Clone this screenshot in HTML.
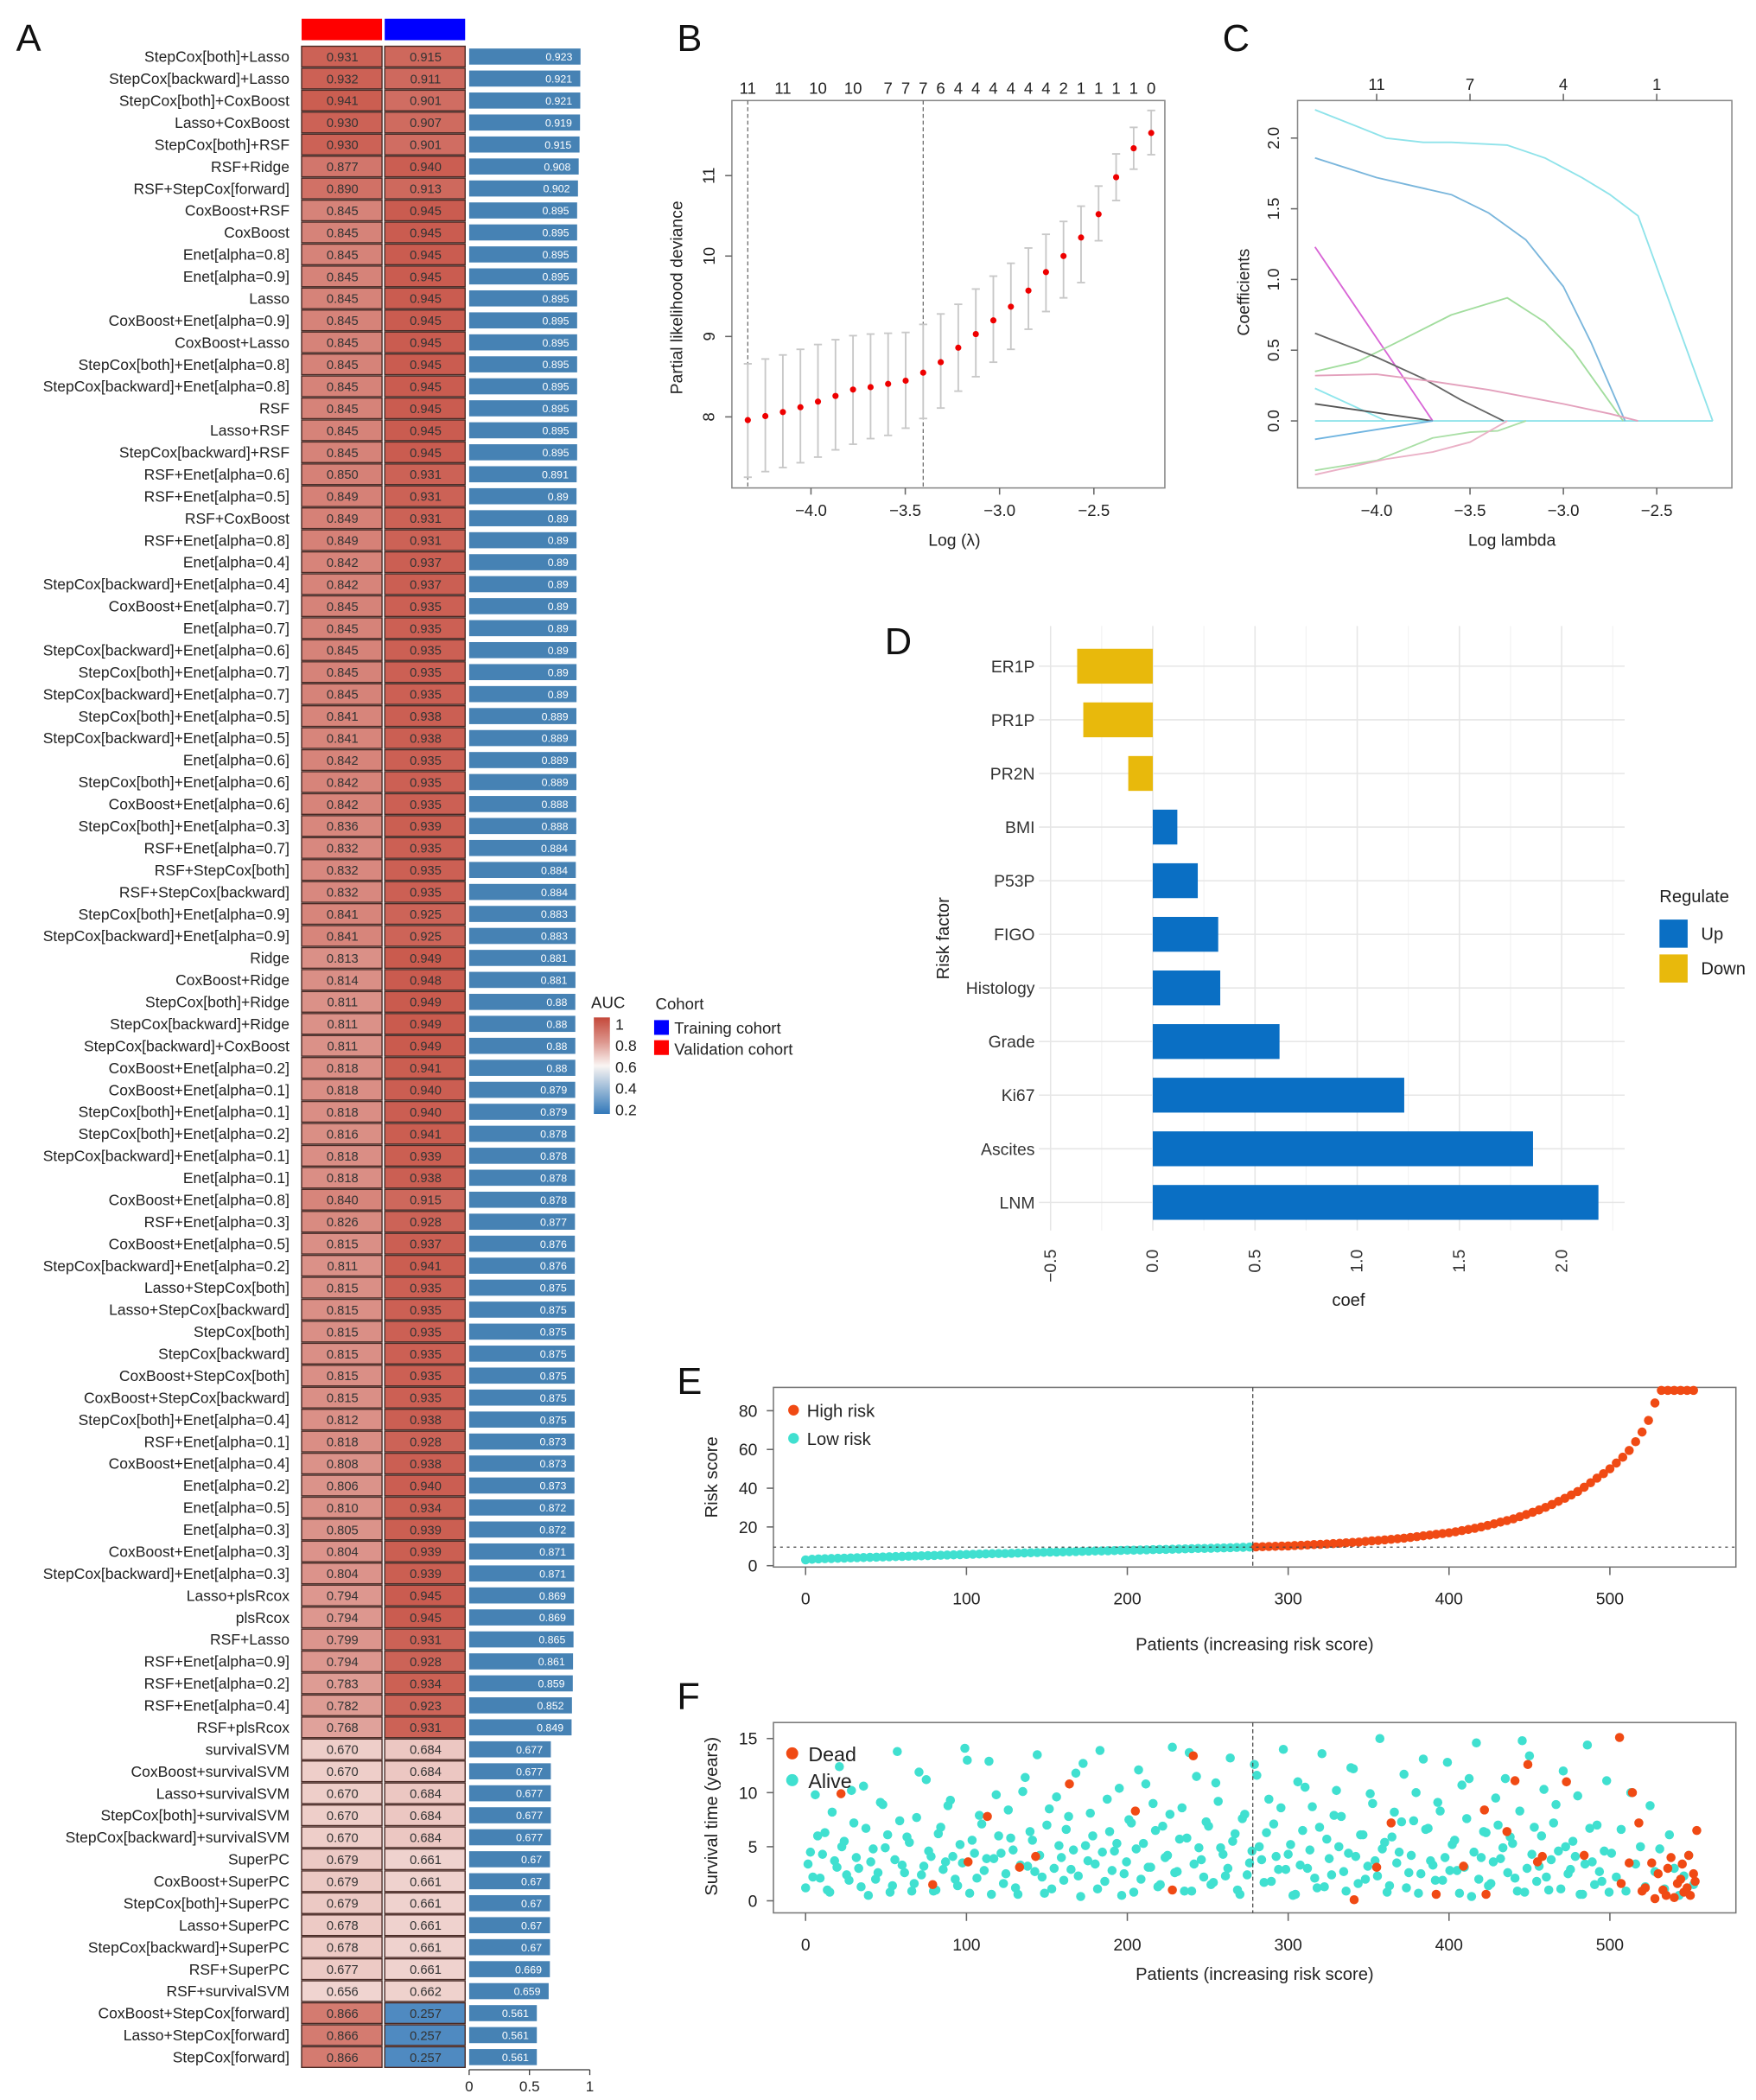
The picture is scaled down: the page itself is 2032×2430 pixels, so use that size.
<!DOCTYPE html>
<html><head><meta charset="utf-8"><style>
html,body{margin:0;padding:0;background:#fff;}
svg{display:block;font-family:"Liberation Sans",Arial,sans-serif;}
</style></head><body>
<svg id="fig" xmlns="http://www.w3.org/2000/svg" width="2032" height="2430" viewBox="0 0 1310 1566.6" preserveAspectRatio="none"></svg>
<script>
// ---------- Panel A data ----------
const modelNames = ["StepCox[both]+Lasso","StepCox[backward]+Lasso","StepCox[both]+CoxBoost","Lasso+CoxBoost","StepCox[both]+RSF","RSF+Ridge","RSF+StepCox[forward]","CoxBoost+RSF","CoxBoost","Enet[alpha=0.8]","Enet[alpha=0.9]","Lasso","CoxBoost+Enet[alpha=0.9]","CoxBoost+Lasso","StepCox[both]+Enet[alpha=0.8]","StepCox[backward]+Enet[alpha=0.8]","RSF","Lasso+RSF","StepCox[backward]+RSF","RSF+Enet[alpha=0.6]","RSF+Enet[alpha=0.5]","RSF+CoxBoost","RSF+Enet[alpha=0.8]","Enet[alpha=0.4]","StepCox[backward]+Enet[alpha=0.4]","CoxBoost+Enet[alpha=0.7]","Enet[alpha=0.7]","StepCox[backward]+Enet[alpha=0.6]","StepCox[both]+Enet[alpha=0.7]","StepCox[backward]+Enet[alpha=0.7]","StepCox[both]+Enet[alpha=0.5]","StepCox[backward]+Enet[alpha=0.5]","Enet[alpha=0.6]","StepCox[both]+Enet[alpha=0.6]","CoxBoost+Enet[alpha=0.6]","StepCox[both]+Enet[alpha=0.3]","RSF+Enet[alpha=0.7]","RSF+StepCox[both]","RSF+StepCox[backward]","StepCox[both]+Enet[alpha=0.9]","StepCox[backward]+Enet[alpha=0.9]","Ridge","CoxBoost+Ridge","StepCox[both]+Ridge","StepCox[backward]+Ridge","StepCox[backward]+CoxBoost","CoxBoost+Enet[alpha=0.2]","CoxBoost+Enet[alpha=0.1]","StepCox[both]+Enet[alpha=0.1]","StepCox[both]+Enet[alpha=0.2]","StepCox[backward]+Enet[alpha=0.1]","Enet[alpha=0.1]","CoxBoost+Enet[alpha=0.8]","RSF+Enet[alpha=0.3]","CoxBoost+Enet[alpha=0.5]","StepCox[backward]+Enet[alpha=0.2]","Lasso+StepCox[both]","Lasso+StepCox[backward]","StepCox[both]","StepCox[backward]","CoxBoost+StepCox[both]","CoxBoost+StepCox[backward]","StepCox[both]+Enet[alpha=0.4]","RSF+Enet[alpha=0.1]","CoxBoost+Enet[alpha=0.4]","Enet[alpha=0.2]","Enet[alpha=0.5]","Enet[alpha=0.3]","CoxBoost+Enet[alpha=0.3]","StepCox[backward]+Enet[alpha=0.3]","Lasso+plsRcox","plsRcox","RSF+Lasso","RSF+Enet[alpha=0.9]","RSF+Enet[alpha=0.2]","RSF+Enet[alpha=0.4]","RSF+plsRcox","survivalSVM","CoxBoost+survivalSVM","Lasso+survivalSVM","StepCox[both]+survivalSVM","StepCox[backward]+survivalSVM","SuperPC","CoxBoost+SuperPC","StepCox[both]+SuperPC","Lasso+SuperPC","StepCox[backward]+SuperPC","RSF+SuperPC","RSF+survivalSVM","CoxBoost+StepCox[forward]","Lasso+StepCox[forward]","StepCox[forward]"];
const validationAUC = [0.931,0.932,0.941,0.930,0.930,0.877,0.890,0.845,0.845,0.845,0.845,0.845,0.845,0.845,0.845,0.845,0.845,0.845,0.845,0.850,0.849,0.849,0.849,0.842,0.842,0.845,0.845,0.845,0.845,0.845,0.841,0.841,0.842,0.842,0.842,0.836,0.832,0.832,0.832,0.841,0.841,0.813,0.814,0.811,0.811,0.811,0.818,0.818,0.818,0.816,0.818,0.818,0.840,0.826,0.815,0.811,0.815,0.815,0.815,0.815,0.815,0.815,0.812,0.818,0.808,0.806,0.810,0.805,0.804,0.804,0.794,0.794,0.799,0.794,0.783,0.782,0.768,0.670,0.670,0.670,0.670,0.670,0.679,0.679,0.679,0.678,0.678,0.677,0.656,0.866,0.866,0.866];
const trainingAUC = [0.915,0.911,0.901,0.907,0.901,0.940,0.913,0.945,0.945,0.945,0.945,0.945,0.945,0.945,0.945,0.945,0.945,0.945,0.945,0.931,0.931,0.931,0.931,0.937,0.937,0.935,0.935,0.935,0.935,0.935,0.938,0.938,0.935,0.935,0.935,0.939,0.935,0.935,0.935,0.925,0.925,0.949,0.948,0.949,0.949,0.949,0.941,0.940,0.940,0.941,0.939,0.938,0.915,0.928,0.937,0.941,0.935,0.935,0.935,0.935,0.935,0.935,0.938,0.928,0.938,0.940,0.934,0.939,0.939,0.939,0.945,0.945,0.931,0.928,0.934,0.923,0.931,0.684,0.684,0.684,0.684,0.684,0.661,0.661,0.661,0.661,0.661,0.661,0.662,0.257,0.257,0.257];
const meanAUC = ["0.923","0.921","0.921","0.919","0.915","0.908","0.902","0.895","0.895","0.895","0.895","0.895","0.895","0.895","0.895","0.895","0.895","0.895","0.895","0.891","0.89","0.89","0.89","0.89","0.89","0.89","0.89","0.89","0.89","0.89","0.889","0.889","0.889","0.889","0.888","0.888","0.884","0.884","0.884","0.883","0.883","0.881","0.881","0.88","0.88","0.88","0.88","0.879","0.879","0.878","0.878","0.878","0.878","0.877","0.876","0.876","0.875","0.875","0.875","0.875","0.875","0.875","0.875","0.873","0.873","0.873","0.872","0.872","0.871","0.871","0.869","0.869","0.865","0.861","0.859","0.852","0.849","0.677","0.677","0.677","0.677","0.677","0.67","0.67","0.67","0.67","0.67","0.669","0.659","0.561","0.561","0.561"];
const barTicks = [0,0.5,1];
const aucLegendTicks = [1,0.8,0.6,0.4,0.2];

// ---------- Panel B data ----------
const logLambdaB = [-4.335,-4.242,-4.149,-4.056,-3.963,-3.870,-3.777,-3.684,-3.591,-3.498,-3.405,-3.312,-3.219,-3.126,-3.033,-2.940,-2.847,-2.754,-2.661,-2.568,-2.475,-2.382,-2.289,-2.196];
const devianceMean = [7.96,8.01,8.06,8.12,8.19,8.26,8.34,8.37,8.41,8.45,8.55,8.68,8.86,9.03,9.20,9.37,9.57,9.80,10.0,10.23,10.52,10.98,11.34,11.53];
const devianceUpper = [8.66,8.72,8.77,8.84,8.90,8.96,9.01,9.03,9.04,9.05,9.15,9.28,9.40,9.59,9.75,9.91,10.10,10.27,10.43,10.62,10.87,11.27,11.60,11.81];
const devianceLower = [7.25,7.32,7.37,7.43,7.50,7.59,7.66,7.73,7.77,7.86,7.98,8.11,8.32,8.50,8.68,8.84,9.09,9.31,9.48,9.67,10.19,10.69,11.08,11.26];
const nonzeroLabelsB = ["11","","11","","10","","10","","7","7","7","6","4","4","4","4","4","4","2","1","1","1","1","0"];
const xTicksB = [-4.0,-3.5,-3.0,-2.5];
const yTicksB = [8,9,10,11];

// ---------- Panel C data ----------
const xTicksC = [-4.0,-3.5,-3.0,-2.5];
const topTicksC = [[-4.0,"11"],[-3.5,"7"],[-3.0,"4"],[-2.5,"1"]];
const yTicksC = [0.0,0.5,1.0,1.5,2.0];
const pathColorsC = ["#8fe3ea","#7ab6dc","#d866d6","#a2dd9e","#666666","#e3a0bc","#8fe6ec","#555555","#6fb4e0","#aadfa6","#eab0c6"];
const pathLambdaC = [
 [-4.33,-4.1,-3.95,-3.75,-3.6,-3.3,-3.1,-2.9,-2.75,-2.6,-2.2],
 [-4.33,-4.0,-3.8,-3.6,-3.4,-3.2,-3.0,-2.85,-2.67],
 [-4.33,-3.7],
 [-4.33,-4.1,-3.9,-3.6,-3.3,-3.1,-2.95,-2.68],
 [-4.33,-4.0,-3.75,-3.55,-3.32],
 [-4.33,-4.0,-3.7,-3.4,-3.0,-2.75,-2.6],
 [-4.33,-3.95,-3.7],
 [-4.33,-3.8,-3.7],
 [-4.33,-3.95,-3.7],
 [-4.33,-4.0,-3.7,-3.5,-3.35,-3.2],
 [-4.33,-3.95,-3.7,-3.5,-3.3]
];
const pathCoefC = [
 [2.2,2.08,2.0,1.97,1.97,1.95,1.86,1.72,1.6,1.45,0],
 [1.86,1.72,1.66,1.6,1.47,1.28,0.95,0.55,0],
 [1.23,0],
 [0.35,0.42,0.55,0.75,0.87,0.7,0.5,0],
 [0.62,0.45,0.3,0.15,0],
 [0.32,0.33,0.28,0.22,0.12,0.05,0],
 [0.23,0,0],
 [0.12,0.02,0],
 [-0.13,-0.05,0],
 [-0.35,-0.28,-0.12,-0.08,-0.07,0],
 [-0.38,-0.27,-0.22,-0.15,0]
];

// ---------- Panel D data ----------
const riskFactors = ["ER1P","PR1P","PR2N","BMI","P53P","FIGO","Histology","Grade","Ki67","Ascites","LNM"];
const riskCoef = [-0.37,-0.34,-0.12,0.12,0.22,0.32,0.33,0.62,1.23,1.86,2.18];
const xTicksD = [-0.5,0.0,0.5,1.0,1.5,2.0];
const xMinorD = [-0.25,0.25,0.75,1.25,1.75,2.25];

// ---------- Panel E data (every 4th patient, sorted) ----------
const riskStep = 4;
const riskScores = [3.0,3.3,3.5,3.6,3.7,3.8,3.9,4.0,4.1,4.2,4.3,4.4,4.5,4.6,4.7,4.8,4.9,5.0,5.1,5.2,5.3,5.4,5.5,5.6,5.7,5.8,5.9,6.0,6.1,6.2,6.3,6.3,6.4,6.5,6.6,6.7,6.8,6.9,7.0,7.0,7.1,7.2,7.3,7.4,7.5,7.6,7.6,7.7,7.8,7.9,8.0,8.0,8.1,8.2,8.3,8.4,8.4,8.5,8.6,8.7,8.8,8.9,8.9,9.0,9.1,9.2,9.3,9.4,9.5,9.6,
 9.7,9.8,9.9,10.0,10.1,10.2,10.4,10.5,10.7,10.9,11.0,11.2,11.4,11.6,11.8,12.0,12.2,12.5,12.8,13.0,13.3,13.6,13.9,14.2,14.6,15.0,15.4,15.8,16.2,16.6,17.0,17.5,18.1,18.7,19.3,20.0,20.8,21.6,22.5,23.3,24.2,25.3,26.4,27.6,28.8,30.1,31.6,33.2,34.8,36.5,38.3,40.5,42.8,45.2,47.5,50.0,53.0,56.0,59.5,64.0,69.0,75.0,84.0,90.5,90.5,90.5,90.5,90.5,90.5];
const riskCutoffIndex = 278;
const riskCutoffScore = 9.6;
const xTicksE = [0,100,200,300,400,500];
const yTicksE = [0,20,40,60,80];

// ---------- Panel F data ----------
const aliveTimesA = [1.2,4.5,9.8,2.1,6.3,0.8,3.7,12.4,5.5,1.9,7.2,3.0,10.6,0.5,4.8,2.6,8.9,6.1,1.4,13.8,3.3,5.9,0.9,7.7,2.4,11.2,4.1,1.0,6.8,3.6,9.3,2.0,5.2,14.1,0.7,4.4,7.9,2.8,12.9,3.9,6.0,1.6,8.4,4.7,0.6,10.1,3.2,5.6,13.5,2.2,7.0,1.1,9.6,4.0,6.6,2.9,11.8,0.4,5.1,8.1,3.4,13.9,1.8,6.4,4.6,10.4,2.5,7.5,0.8,12.1,5.3,3.1,9.0,1.3,6.9,4.2,14.2,2.7,8.6,5.8,0.9,11.5,3.8,7.3,1.5,10.9,4.9,2.3,13.2,6.2,0.6,8.0,3.5,12.6,5.0,1.7,9.4,7.1,2.9,14.0,4.3,0.5,11.0,6.5,3.0,8.7,1.2,13.6,5.7,2.4,10.2,7.8,0.9,12.3,4.1,6.1,2.0,9.9,3.7,15.0,5.4,1.4,8.2,4.5,11.7,2.6,7.4,0.7,13.1,6.7,3.3,9.1,1.9,12.8,5.2,2.8,10.7,7.6,0.4,14.6,4.0,6.3,1.6,9.5,3.9,11.3,5.9,2.1,8.3,0.8,13.4,6.8,3.2,10.3,1.0,7.2,4.6,12.0,2.5,5.5,9.7,0.6,14.4,3.6,7.0,1.8,11.1,4.4,2.2,6.6,0.9,10.0,3.4,5.0,1.3,8.8,2.7,4.8,1.1,6.1,3.0,0.5,2.3,4.2,1.5];
const aliveTimesB = [3.4,2.2,6.0,4.3,1.0,8.2,3.1,5.0,2.4,10.2,4.0,1.3,6.7,3.6,2.0,9.1,4.9,0.8,3.8,7.4,2.6,5.4,1.6,11.9,3.2,4.6,0.9,6.2,2.9,8.8,4.1,1.4,3.5,13.0,5.6,2.1,7.1,3.9,0.6,9.8,4.4,2.5,5.8,1.2,3.3,11.4,6.4,2.7,4.2,0.7,8.5,3.0,5.1,1.9,7.8,4.7,2.3,12.7,3.7,6.0,1.1,4.5,9.4,2.8,5.3,0.5,3.6,7.2,4.8,2.0,10.8,3.1,6.5,1.5,4.0,8.0,2.6,5.7,0.9,13.7,3.4,4.9,2.2,6.9,1.7,9.2,4.3,3.0,5.5,1.0,7.6,2.4,4.6,11.6,3.8,6.3,1.8,4.1,8.6,2.9,5.2,0.6,3.3,10.5,4.7,2.1,6.8,1.3,3.9,7.9,5.0,2.7,4.4,12.2,1.6,6.1,3.2,9.0,2.3,4.8,0.8,5.9,3.5,7.3,1.2,4.2,10.0,2.5,6.6,3.7,1.9,8.3,4.0,2.8,5.6,0.7,3.1,11.3,4.5,2.0,6.4,1.4,3.6,7.0,4.9,2.6,5.3,0.9,14.8,3.0,4.3,1.8,6.0,2.2,3.8,8.9,1.1,5.0,2.9,4.1,0.6,3.4,6.7,1.5,2.7,4.6,0.8];
const deadIndex = [22,113,143,164,133,101,79,205,228,241,341,355,364,392,409,422,423,436,441,449,455,458,473,484,506,514,507,518,512,522,526,530,533,536,538,540,542,544,546,548,550,552,554,520,528,535,545,549,553];
const deadTimes = [9.9,7.8,4.1,10.8,3.1,3.6,1.5,8.3,1.0,13.4,0.1,3.1,7.2,0.6,3.2,8.4,0.6,6.4,11.1,12.6,3.6,4.1,11.0,4.2,15.1,10.0,1.6,7.2,3.5,1.2,3.5,2.5,1.0,3.0,4.0,0.3,1.6,2.0,0.8,1.2,0.5,2.5,6.5,0.9,0.2,0.5,3.4,4.2,1.8];
const xTicksF = [0,100,200,300,400,500];
const yTicksF = [0,5,10,15];

const NS = "http://www.w3.org/2000/svg";
const svg = document.getElementById("fig");
function mk(tag, attrs, parent){ const e=document.createElementNS(NS,tag); for(const k in attrs) e.setAttribute(k,attrs[k]); (parent||svg).appendChild(e); return e; }
function txt(str, attrs, parent){ const e=mk("text",attrs,parent); e.textContent=str; return e; }
function grp(){ return mk("g",{}); }

// panel letters
const letters=[["A",12,38],["B",505,38],["C",912,38],["D",660,488],["E",505,1040],["F",505,1275]];
letters.forEach(l=>{ const t=txt(l[0],{x:l[1],y:l[2],"font-size":28,fill:"#111"});

 });

// ===== Panel A =====
function heatColor(v){
  const w=[250,245,243], r=[196,72,58], b=[50,120,185];
  let c;
  if(v>=0.6){ const t=Math.min(1,Math.pow((v-0.6)/0.4,0.85)); c=w.map((x,i)=>Math.round(x+(r[i]-x)*t)); }
  else { const t=Math.min(1,(0.6-v)/0.4); c=w.map((x,i)=>Math.round(x+(b[i]-x)*t)); }
  return "rgb("+c.join(",")+")";
}
const gA=grp();


const rowTop=34, rowH=16.4, c1x=225, c2x=287, cw=61, barX0=350, barScale=90;
const hdr1=mk("rect",{x:c1x,y:14,width:cw-1,height:16,fill:"#ff0000"},gA);


const hdr2=mk("rect",{x:c2x,y:14,width:cw-1,height:16,fill:"#0000ff"},gA);


modelNames.forEach((nm,i)=>{
  const yc=rowTop+rowH*i+rowH/2;
  const lab=txt(nm,{x:216,y:yc+4,"font-size":11.3,"text-anchor":"end",fill:"#222"},gA);
  
  
  const r1=mk("rect",{x:c1x,y:rowTop+rowH*i+0.5,width:cw-1,height:rowH-1,fill:heatColor(validationAUC[i]),stroke:"#4a2a25","stroke-width":0.9},gA);
  
  
  const t1=txt(validationAUC[i].toFixed(3),{x:c1x+cw/2,y:yc+3.5,"font-size":9.5,"text-anchor":"middle",fill:"#333"},gA);
  
  
  const r2=mk("rect",{x:c2x,y:rowTop+rowH*i+0.5,width:cw-1,height:rowH-1,fill:heatColor(trainingAUC[i]),stroke:"#4a2a25","stroke-width":0.9},gA);
  
  
  const t2=txt(trainingAUC[i].toFixed(3),{x:c2x+cw/2,y:yc+3.5,"font-size":9.5,"text-anchor":"middle",fill:"#333"},gA);
  
  
  const mv=parseFloat(meanAUC[i]);
  const b=mk("rect",{x:barX0,y:yc-6,width:mv*barScale,height:12,fill:"#4682b4"},gA);
  
  
  const bt=txt(meanAUC[i],{x:barX0+mv*barScale-6,y:yc+3,"font-size":8,"text-anchor":"end",fill:"#fff"},gA);
  
  
});
const axA=mk("line",{x1:barX0,x2:barX0+barScale,y1:1544,y2:1544,stroke:"#333","stroke-width":0.8},gA);


barTicks.forEach(v=>{
  const tk=mk("line",{x1:barX0+v*barScale,x2:barX0+v*barScale,y1:1544,y2:1548,stroke:"#333","stroke-width":0.8},gA);
  
  
  const tl=txt(String(v),{x:barX0+v*barScale,y:1560,"font-size":11,"text-anchor":"middle",fill:"#222"},gA);
  
  
});
// AUC legend
const defs=mk("defs",{});
const lg=mk("linearGradient",{id:"aucgrad",x1:0,y1:0,x2:0,y2:1},defs);
[[0,1],[0.25,0.8],[0.5,0.6],[0.75,0.4],[1,0.2]].forEach(s=>mk("stop",{offset:s[0],"stop-color":heatColor(s[1])},lg));
const aucT=txt("AUC",{x:441,y:752,"font-size":12,fill:"#222"});


const aucBar=mk("rect",{x:443,y:759,width:12,height:72,fill:"url(#aucgrad)"});


aucLegendTicks.forEach((v,i)=>{
  const t=txt(String(v),{x:459,y:768+i*16,"font-size":11.5,fill:"#222"});
  
  
});
const cohT=txt("Cohort",{x:489,y:753,"font-size":12,fill:"#222"});


const sq1=mk("rect",{x:488,y:761,width:11,height:11,fill:"#0000ff"});


const lt1=txt("Training cohort",{x:503,y:771,"font-size":12,fill:"#222"});


const sq2=mk("rect",{x:488,y:776,width:11,height:11,fill:"#ff0000"});


const lt2=txt("Validation cohort",{x:503,y:787,"font-size":12,fill:"#222"});



// ===== Panel B =====
const xB=v=>605+(v+4)*140.7, yB=v=>311-(v-8)*60;
const bTop=75, bBot=364;
const gB=grp();


const boxB=mk("rect",{x:546,y:bTop,width:323,height:bBot-bTop,fill:"none",stroke:"#888","stroke-width":1},gB);


[0,10].forEach(i=>{
  const d=mk("line",{x1:xB(logLambdaB[i]),x2:xB(logLambdaB[i]),y1:bTop,y2:bBot,stroke:"#666","stroke-width":0.8,"stroke-dasharray":"3,2"},gB);
  
  
});
logLambdaB.forEach((l,i)=>{
  const x=xB(l);
  const e=mk("line",{x1:x,x2:x,y1:yB(devianceUpper[i]),y2:yB(devianceLower[i]),stroke:"#c8c8c8","stroke-width":1.2},gB);
  
  
  [devianceUpper[i],devianceLower[i]].forEach(v=>{
    const c=mk("line",{x1:x-3,x2:x+3,y1:yB(v),y2:yB(v),stroke:"#c8c8c8","stroke-width":1.2},gB);
    
    
  });
  const p=mk("circle",{cx:x,cy:yB(devianceMean[i]),r:2.3,fill:"#ee0000"},gB);
  
  
  if(nonzeroLabelsB[i]){
    const t=txt(nonzeroLabelsB[i],{x:x,y:70,"font-size":12,"text-anchor":"middle",fill:"#222"},gB);
    
    
  }
});
xTicksB.forEach(v=>{
  const tk=mk("line",{x1:xB(v),x2:xB(v),y1:bBot,y2:bBot+5,stroke:"#666"},gB);
  
  
  const t=txt(v.toFixed(1).replace("-","\u2212"),{x:xB(v),y:385,"font-size":12,"text-anchor":"middle",fill:"#222"},gB);
  
  
});
yTicksB.forEach(v=>{
  const tk=mk("line",{x1:541,x2:546,y1:yB(v),y2:yB(v),stroke:"#666"},gB);
  
  
  const t=txt(String(v),{x:533,y:yB(v),"font-size":12,"text-anchor":"middle",fill:"#222",transform:"rotate(-90 533 "+yB(v)+")"},gB);
  
  
});
const xlB=txt("Log (\u03bb)",{x:712,y:407,"font-size":12.5,"text-anchor":"middle",fill:"#222"},gB);


const ylB=txt("Partial likelihood deviance",{x:509,y:222,"font-size":12.5,"text-anchor":"middle",fill:"#222",transform:"rotate(-90 509 222)"},gB);



// ===== Panel C =====
const xC=v=>1027+(v+4)*139.3, yC=v=>314-v*105.5;
const gC=grp();


const boxC=mk("rect",{x:968,y:bTop,width:324,height:bBot-bTop,fill:"none",stroke:"#888","stroke-width":1},gC);


const base=mk("line",{x1:xC(-4.33),x2:xC(-2.2),y1:yC(0),y2:yC(0),stroke:"#8fe3ea","stroke-width":1.2},gC);


pathLambdaC.forEach((ls,k)=>{
  const pts=ls.map((l,j)=>xC(l).toFixed(1)+","+yC(pathCoefC[k][j]).toFixed(1)).join(" ");
  const pl=mk("polyline",{points:pts,fill:"none",stroke:pathColorsC[k],"stroke-width":1.2,"stroke-linejoin":"round"},gC);
  
  
});
xTicksC.forEach(v=>{
  const tk=mk("line",{x1:xC(v),x2:xC(v),y1:bBot,y2:bBot+5,stroke:"#666"},gC);
  
  
  const t=txt(v.toFixed(1).replace("-","\u2212"),{x:xC(v),y:385,"font-size":12,"text-anchor":"middle",fill:"#222"},gC);
  
  
});
topTicksC.forEach(tc=>{
  const tk=mk("line",{x1:xC(tc[0]),x2:xC(tc[0]),y1:bTop-5,y2:bTop,stroke:"#666"},gC);
  
  
  const t=txt(tc[1],{x:xC(tc[0]),y:67,"font-size":12,"text-anchor":"middle",fill:"#222"},gC);
  
  
});
yTicksC.forEach(v=>{
  const tk=mk("line",{x1:963,x2:968,y1:yC(v),y2:yC(v),stroke:"#666"},gC);
  
  
  const t=txt(v.toFixed(1),{x:954,y:yC(v),"font-size":12,"text-anchor":"middle",fill:"#222",transform:"rotate(-90 954 "+yC(v)+")"},gC);
  
  
});
const xlC=txt("Log lambda",{x:1128,y:407,"font-size":12.5,"text-anchor":"middle",fill:"#222"},gC);


const ylC=txt("Coefficients",{x:932,y:218,"font-size":12.5,"text-anchor":"middle",fill:"#222",transform:"rotate(-90 932 218)"},gC);



// ===== Panel D =====
const xD=v=>860+v*152.5, yD=i=>497+i*40;
const gD=grp();


xMinorD.forEach(v=>{ const l=mk("line",{x1:xD(v),x2:xD(v),y1:467,y2:918,stroke:"#f3f3f3","stroke-width":0.8},gD);
  
   });
xTicksD.forEach(v=>{ const l=mk("line",{x1:xD(v),x2:xD(v),y1:467,y2:918,stroke:"#e6e6e6","stroke-width":1},gD);
  
   });
riskFactors.forEach((f,i)=>{ const l=mk("line",{x1:775,x2:1212,y1:yD(i),y2:yD(i),stroke:"#e6e6e6","stroke-width":1},gD);
  
   });
riskFactors.forEach((f,i)=>{
  const v=riskCoef[i];
  const b=mk("rect",{x:Math.min(xD(0),xD(v)),y:yD(i)-13,width:Math.abs(xD(v)-xD(0)),height:26,fill:v>=0?"#0a6fc4":"#e8b90c"},gD);
  
  
  const t=txt(f,{x:772,y:yD(i)+4.5,"font-size":12.5,"text-anchor":"end",fill:"#333"},gD);
  
  
});
xTicksD.forEach(v=>{
  const t=txt(v.toFixed(1).replace("-","\u2212"),{x:xD(v)+4,y:932,"font-size":12.5,"text-anchor":"end",fill:"#333",transform:"rotate(-90 "+(xD(v)+4)+" 932)"},gD);
  
  
});
const xlD=txt("coef",{x:1006,y:974,"font-size":13,"text-anchor":"middle",fill:"#222"},gD);


const ylD=txt("Risk factor",{x:708,y:700,"font-size":13,"text-anchor":"middle",fill:"#222",transform:"rotate(-90 708 700)"},gD);


const rgT=txt("Regulate",{x:1238,y:673,"font-size":13,fill:"#222"},gD);


const upS=mk("rect",{x:1238,y:686,width:21,height:21,fill:"#0a6fc4"},gD);


const upT=txt("Up",{x:1269,y:701,"font-size":13,fill:"#222"},gD);


const dnS=mk("rect",{x:1238,y:712,width:21,height:21,fill:"#e8b90c"},gD);


const dnT=txt("Down",{x:1269,y:727,"font-size":13,fill:"#222"},gD);



// ===== Panel E =====
const xE=i=>601+i*1.2, yE=v=>1168-v*1.445;
const gE=grp();


const boxE=mk("rect",{x:577,y:1035,width:718,height:134,fill:"none",stroke:"#777","stroke-width":1},gE);


riskScores.forEach((s,k)=>{
  const idx=k*riskStep;
  const c=mk("circle",{cx:xE(idx),cy:yE(s),r:3.4,fill:idx<riskCutoffIndex?"#40e0d0":"#f04a14"},gE);
  
  
});
const vE=mk("line",{x1:xE(riskCutoffIndex),x2:xE(riskCutoffIndex),y1:1035,y2:1169,stroke:"#444","stroke-width":0.8,"stroke-dasharray":"3,2"},gE);


const hE=mk("line",{x1:577,x2:1295,y1:yE(riskCutoffScore),y2:yE(riskCutoffScore),stroke:"#444","stroke-width":0.8,"stroke-dasharray":"2,3"},gE);


xTicksE.forEach(v=>{
  const tk=mk("line",{x1:xE(v),x2:xE(v),y1:1169,y2:1175,stroke:"#666"},gE);
  
  
  const t=txt(String(v),{x:xE(v),y:1197,"font-size":12.5,"text-anchor":"middle",fill:"#222"},gE);
  
  
});
yTicksE.forEach(v=>{
  const tk=mk("line",{x1:572,x2:577,y1:yE(v),y2:yE(v),stroke:"#666"},gE);
  
  
  const t=txt(String(v),{x:565,y:yE(v)+4.5,"font-size":12.5,"text-anchor":"end",fill:"#222"},gE);
  
  
});
const xlE=txt("Patients (increasing risk score)",{x:936,y:1231,"font-size":13,"text-anchor":"middle",fill:"#222"},gE);


const ylE=txt("Risk score",{x:535,y:1102,"font-size":13,"text-anchor":"middle",fill:"#222",transform:"rotate(-90 535 1102)"},gE);


const le1=mk("circle",{cx:592,cy:1052,r:4,fill:"#f04a14"},gE);


const le1t=txt("High risk",{x:602,y:1057,"font-size":13,fill:"#222"},gE);


const le2=mk("circle",{cx:592,cy:1073,r:4,fill:"#40e0d0"},gE);


const le2t=txt("Low risk",{x:602,y:1078,"font-size":13,fill:"#222"},gE);



// ===== Panel F =====
const yF=v=>1418-v*8.07;
const gF=grp();


const boxF=mk("rect",{x:577,y:1285,width:718,height:142,fill:"none",stroke:"#777","stroke-width":1},gF);


aliveTimesA.forEach((t,k)=>{
  const c=mk("circle",{cx:xE(k*3),cy:yF(t),r:3.4,fill:"#40e0d0"},gF);
  
  
});
aliveTimesB.forEach((t,k)=>{
  const c=mk("circle",{cx:xE(k*3+1.5),cy:yF(t),r:3.4,fill:"#40e0d0"},gF);
  
  
});
deadIndex.forEach((idx,k)=>{
  const c=mk("circle",{cx:xE(idx),cy:yF(deadTimes[k]),r:3.4,fill:"#f04a14"},gF);
  
  
});
const vF=mk("line",{x1:xE(riskCutoffIndex),x2:xE(riskCutoffIndex),y1:1285,y2:1427,stroke:"#444","stroke-width":0.8,"stroke-dasharray":"3,2"},gF);


xTicksF.forEach(v=>{
  const tk=mk("line",{x1:xE(v),x2:xE(v),y1:1427,y2:1433,stroke:"#666"},gF);
  
  
  const t=txt(String(v),{x:xE(v),y:1455,"font-size":12.5,"text-anchor":"middle",fill:"#222"},gF);
  
  
});
yTicksF.forEach(v=>{
  const tk=mk("line",{x1:572,x2:577,y1:yF(v),y2:yF(v),stroke:"#666"},gF);
  
  
  const t=txt(String(v),{x:565,y:yF(v)+4.5,"font-size":12.5,"text-anchor":"end",fill:"#222"},gF);
  
  
});
const xlF=txt("Patients (increasing risk score)",{x:936,y:1477,"font-size":13,"text-anchor":"middle",fill:"#222"},gF);


const ylF=txt("Survival time (years)",{x:535,y:1355,"font-size":13,"text-anchor":"middle",fill:"#222",transform:"rotate(-90 535 1355)"},gF);


const lf1=mk("circle",{cx:591,cy:1308,r:4.5,fill:"#f04a14"},gF);


const lf1t=txt("Dead",{x:603,y:1314,"font-size":15,fill:"#222"},gF);


const lf2=mk("circle",{cx:591,cy:1328,r:4.5,fill:"#40e0d0"},gF);


const lf2t=txt("Alive",{x:603,y:1334,"font-size":15,fill:"#222"},gF);


</script>
</body></html>
